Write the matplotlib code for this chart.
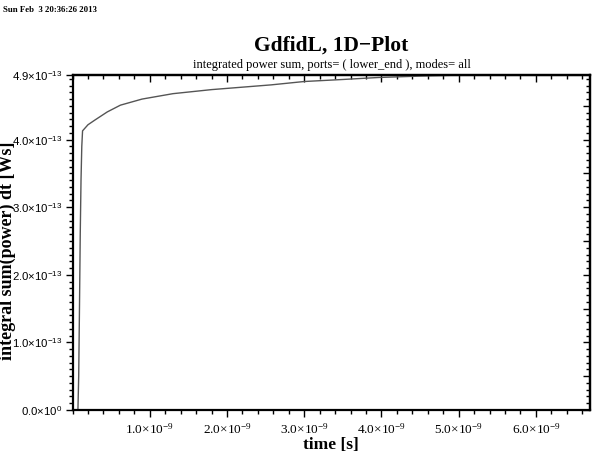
import matplotlib
matplotlib.use("Agg")
import matplotlib.pyplot as plt
from matplotlib.ticker import FixedLocator, MultipleLocator, NullFormatter

# data (time in 1e-9 s, integrated power in 1e-13 Ws)
time_ns = [0.0, 0.07, 0.08, 0.09, 0.10, 0.11, 0.12, 0.13, 0.2, 0.29, 0.45, 0.62,
           0.9, 1.3, 1.8, 2.57, 3.0, 3.5, 3.97, 4.5, 4.9, 5.5, 6.0, 6.7]
power_e13 = [0.0, 0.0, 0.5, 1.5, 2.6, 3.4, 3.9, 4.13, 4.22, 4.29, 4.41, 4.51,
             4.60, 4.68, 4.74, 4.81, 4.86, 4.89, 4.92, 4.94, 4.95, 4.95, 4.95, 4.95]

x_ticks = [1, 2, 3, 4, 5, 6]
x_labels = ["1.0", "2.0", "3.0", "4.0", "5.0", "6.0"]
y_ticks = [0, 1, 2, 3, 4, 4.95]
y_labels = ["0.0", "1.0", "2.0", "3.0", "4.0", "4.9"]

title = "GdfidL, 1D\u2212Plot"
subtitle = "integrated power sum, ports= ( lower_end ), modes= all"
stamp = "Sun Feb  3 20:36:26 2013"
xlabel = "time [s]"
ylabel = "integral sum(power) dt [Ws]"

plt.rcParams['mathtext.fontset'] = 'custom'
plt.rcParams['mathtext.rm'] = 'Liberation Serif'
plt.rcParams['mathtext.sf'] = 'Liberation Sans'
plt.rcParams['font.family'] = ['Liberation Serif', 'DejaVu Serif']

fig = plt.figure(figsize=(5.92, 4.53), dpi=100)
ax = fig.add_axes([0.1225, 0.095, 0.8741, 0.7385])

xs = [t * 1e-9 for t in time_ns]
ys = [p * 1e-13 for p in power_e13]
ax.plot(xs, ys, color="#555555", lw=1.0)

ax.set_xlim(0, 6.7e-9)
ax.set_ylim(0, 4.95e-13)

ax.xaxis.set_major_locator(FixedLocator([t * 1e-9 for t in x_ticks]))
ax.set_xticklabels([r"$\mathrm{%s{\times}10^{-9}}$" % l for l in x_labels])
ax.xaxis.set_minor_locator(MultipleLocator(0.2e-9))

ax.yaxis.set_major_locator(FixedLocator([v * 1e-13 for v in y_ticks]))
ylab = []
for l in y_labels:
    if l == "0.0":
        ylab.append(r"$\mathsf{0.0{\times}10^{0}}$")
    else:
        ylab.append(r"$\mathsf{%s{\times}10^{-13}}$" % l)
ax.set_yticklabels(ylab)
ax.yaxis.set_minor_locator(MultipleLocator(0.1e-13))

ax.tick_params(axis='x', which='major', direction='out', labelsize=9.5, pad=4)
ax.tick_params(axis='y', which='major', direction='out', labelsize=8.2, pad=2)
ax.tick_params(axis='both', which='minor', direction='out')
ax.tick_params(which='major', length=5, width=1)
ax.tick_params(which='minor', length=3, width=1)
for s in ax.spines.values():
    s.set_linewidth(1.6)

# inward ticks on top and right
top = ax.secondary_xaxis('top')
top.xaxis.set_major_locator(FixedLocator([t * 1e-9 for t in x_ticks]))
top.xaxis.set_minor_locator(MultipleLocator(0.2e-9))
top.xaxis.set_major_formatter(NullFormatter())
top.tick_params(which='both', direction='in', width=1)
top.tick_params(which='major', length=5)
top.tick_params(which='minor', length=3)
top.spines['top'].set_linewidth(1.6)

right = ax.secondary_yaxis('right')
right.yaxis.set_major_locator(MultipleLocator(0.5e-13))
right.yaxis.set_minor_locator(MultipleLocator(0.1e-13))
right.yaxis.set_major_formatter(NullFormatter())
right.tick_params(which='both', direction='in', width=1)
right.tick_params(which='major', length=5)
right.tick_params(which='minor', length=3)
right.spines['right'].set_linewidth(1.6)

ax.set_xlabel(xlabel, fontsize=12.5, fontweight='bold', labelpad=0)
fig.text(0.013, 0.446, ylabel, rotation=90, ha='center', va='center',
         fontsize=13, fontweight='bold')

fig.text(0.56, 0.9, title, ha='center', va='center', fontsize=15.5, fontweight='bold')
fig.text(0.56, 0.857, subtitle, ha='center', va='center', fontsize=9)
fig.text(0.005, 0.978, stamp, ha='left', va='center', fontsize=6.3, fontweight='bold')

fig.savefig("out.png", dpi=100)
